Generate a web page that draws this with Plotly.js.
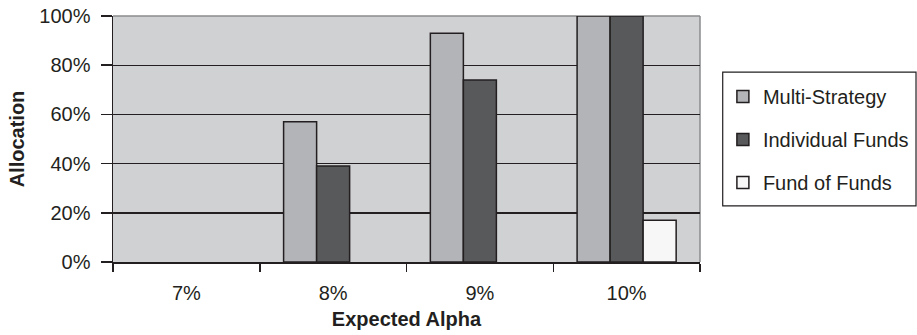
<!DOCTYPE html>
<html>
<head>
<meta charset="utf-8">
<script src="https://cdn.plot.ly/plotly-3.0.1.min.js"></script>
<style>html,body{margin:0;padding:0;background:#fff;}#chart{width:917px;height:335px;}</style>
</head>
<body>
<div id="chart"></div>
<script>
var categories = ["7%", "8%", "9%", "10%"];
var seriesNames = ["Multi-Strategy", "Individual Funds", "Fund of Funds"];
var multiStrategy = [0, 0.57, 0.93, 1.00];
var individualFunds = [0, 0.39, 0.74, 1.00];
var fundOfFunds = [0, 0, 0, 0.17];
var yTickVals = [0, 0.2, 0.4, 0.6, 0.8, 1.0];
var yTickText = ["0%", "20%", "40%", "60%", "80%", "100%"];

var fillColors = ["#b3b4b7", "#58595b", "#f7f7f7"];
var seriesValues = [multiStrategy, individualFunds, fundOfFunds];
var font = "Liberation Sans, Arial, Helvetica, sans-serif";
var textColor = "#231f20";
var fs = 20;

var traces = seriesValues.map(function (vals, i) {
  return {
    type: "bar",
    name: seriesNames[i],
    x: categories,
    // zero allocations are not drawn as bars (no outline on the baseline)
    y: vals.map(function (v) { return v === 0 ? null : v; }),
    legendgroup: "g" + i,
    marker: { color: fillColors[i], line: { color: "#231f20", width: 1.5 } },
    hoverinfo: "skip"
  };
});

var layout = {
  width: 917,
  height: 335,
  margin: { l: 113, r: 217, t: 16, b: 73, autoexpand: false },
  paper_bgcolor: "#ffffff",
  plot_bgcolor: "#d0d1d3",
  barmode: "group",
  bargap: 0.325,
  bargroupgap: 0,
  font: { family: font, size: fs, color: textColor },
  showlegend: true,
  legend: {
    x: 1.039, xanchor: "left",
    y: 0.752, yanchor: "top",
    bgcolor: "rgba(0,0,0,0)",
    borderwidth: 0,
    font: { family: font, size: fs, color: textColor },
    traceorder: "grouped",
    tracegroupgap: 14,
    itemwidth: 30
  },
  xaxis: {
    type: "category",
    range: [-0.5, 3.5],
    showline: true,
    linecolor: "#231f20",
    linewidth: 1.5,
    ticks: "outside",
    tickson: "boundaries",
    ticklen: 8,
    tickwidth: 1.5,
    tickcolor: "#231f20",
    ticklabelstandoff: 12,
    showgrid: false,
    zeroline: false,
    tickfont: { family: font, size: fs, color: textColor },
    title: { text: "<b>Expected Alpha</b>", font: { family: font, size: fs, color: textColor }, standoff: 9 }
  },
  yaxis: {
    range: [0, 1.0],
    tickvals: yTickVals,
    ticktext: yTickText,
    showline: true,
    linecolor: "#231f20",
    linewidth: 1.5,
    ticks: "outside",
    ticklen: 11,
    tickwidth: 1.5,
    tickcolor: "#231f20",
    ticklabelstandoff: 6,
    showgrid: true,
    gridcolor: "#231f20",
    gridwidth: 1.4,
    zeroline: false,
    tickfont: { family: font, size: fs, color: textColor },
    title: { text: "<b>Allocation</b>", font: { family: font, size: fs, color: textColor }, standoff: 9 }
  },
  shapes: [
    { type: "line", xref: "paper", yref: "paper", x0: 0, x1: 1, y0: 1, y1: 1, line: { color: "#8a8b8d", width: 1.5 }, layer: "below" },
    { type: "line", xref: "paper", yref: "paper", x0: 1, x1: 1, y0: 0, y1: 1, line: { color: "#8a8b8d", width: 1.5 }, layer: "below" },
    { type: "rect", xref: "paper", yref: "paper", x0: 1.0387, x1: 1.368, y0: 0.228, y1: 0.772, line: { color: "#231f20", width: 1.2 }, fillcolor: "rgba(0,0,0,0)", layer: "above" }
  ]
};

Plotly.newPlot("chart", traces, layout, { displayModeBar: false, staticPlot: true });
</script>
</body>
</html>
